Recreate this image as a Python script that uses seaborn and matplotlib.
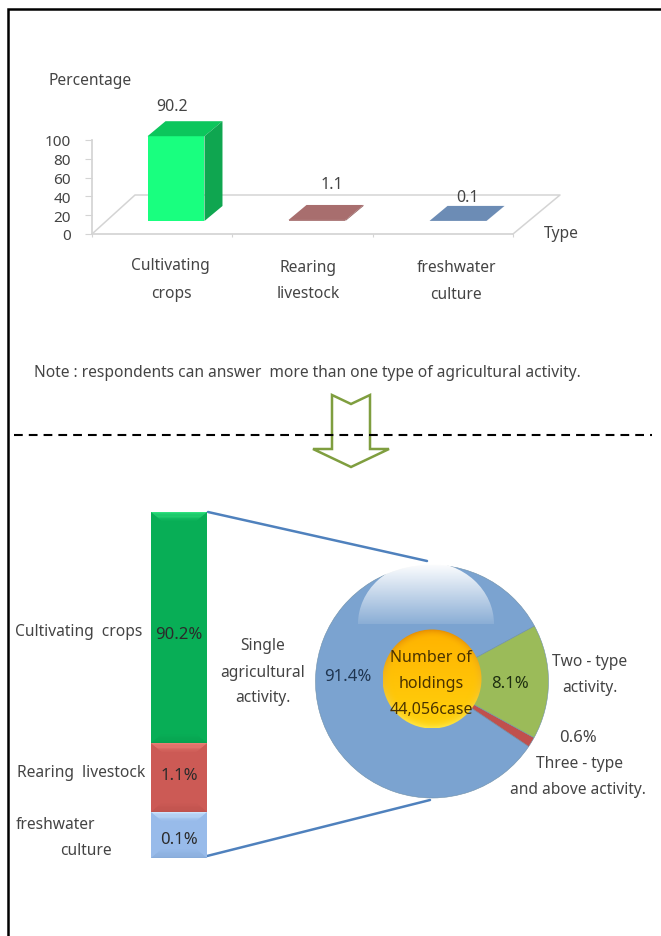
import numpy as np
import pandas as pd
import matplotlib
matplotlib.use("Agg")
import matplotlib.pyplot as plt
from matplotlib.patches import Polygon, Circle, Ellipse
import seaborn as sns

# ---------- data ----------
types = ["Cultivating crops", "Rearing livestock", "freshwater culture"]
type_pct = [90.2, 1.1, 0.1]
y_ticks = [0, 20, 40, 60, 80, 100]
front_colors = ["#19FF7F", "#B08080", "#7090B8"]
top_colors = ["#0CC65C", "#A86E6E", "#6C8CB5"]
side_colors = ["#0FA650", "#945E5E", "#5D7BA0"]

# the lower column is drawn with schematic, non proportional heights
stack_names = ["Cultivating crops", "Rearing livestock", "freshwater culture"]
stack_labels = ["90.2%", "1.1%", "0.1%"]
stack_drawn = [66.8, 19.9, 13.3]
stack_body = ["#08AE56", "#CC5A55", "#98BBEA"]
stack_light = ["#35E884", "#F58A80", "#D3EAFF"]
stack_dark = ["#079F4E", "#BC504B", "#86AAD8"]

# the pie is likewise drawn with schematic wedge sizes
pie_names = ["Single agricultural activity.", "Three - type and above activity.", "Two - type activity."]
pie_labels = ["91.4%", "0.6%", "8.1%"]
pie_drawn = [82.7, 1.4, 15.9]
pie_colors = ["#7BA3D0", "#C0504D", "#9BBB59"]
holdings_text = ["Number of", "holdings", "44,056case"]

W, H = 661, 937
sns.set_theme(style="white")
FONT = ["Noto Sans", "DejaVu Sans"]
plt.rcParams["font.family"] = FONT
TXT = "#444444"

fig = plt.figure(figsize=(W / 100, H / 100), dpi=100, facecolor="white")


def px_axes(l, t, r, b, z=1):
    a = fig.add_axes([l / W, 1 - b / H, (r - l) / W, (b - t) / H], zorder=z)
    a.patch.set_alpha(0)
    return a


# page overlay in pixel coordinates
page = px_axes(0, 0, W, H, z=0)
page.set_xlim(0, W)
page.set_ylim(H, 0)
page.axis("off")
top = px_axes(0, 0, W, H, z=9)
top.set_xlim(0, W)
top.set_ylim(H, 0)
top.axis("off")


def label(x, y, s, ha="center", fs=11.2, color=TXT, ax=top):
    ax.text(x, y + 2, s, ha=ha, va="center", fontsize=fs, color=color)


# frame, separator, arrow
page.plot([8, 8, W], [H, 9.5, 9.5], color="black", lw=1.8, solid_joinstyle="miter")
page.plot([14, 652], [435.5, 435.5], color="black", lw=1.5, dashes=(4.2, 2.9))
arrow = [(332, 396), (351, 405), (370, 396), (370, 450), (389, 450), (351, 468), (313, 450), (332, 450)]
page.add_patch(Polygon(arrow, closed=True, fill=False, edgecolor="#7F9E3F", lw=1.8))

# ---------- top chart ----------
floor_col = "#D4D4D4"
page.plot([513, 560, 135, 92], [235, 196, 196, 235], color=floor_col, lw=1.1)

axis_ax = px_axes(92, 141, 513, 235, z=2)
axis_ax.set_ylim(0, 100)
axis_ax.set_xlim(0, len(types))
axis_ax.set_xticks(range(len(types) + 1))
axis_ax.set_xticklabels([])
axis_ax.set_yticks(y_ticks)
axis_ax.set_yticklabels([str(v) for v in y_ticks], fontsize=11, color=TXT)
axis_ax.tick_params(axis="y", length=5, width=0.8, color=floor_col, pad=10, left=True)
axis_ax.tick_params(axis="x", length=2.5, width=0.8, color=floor_col, bottom=True)
for name, sp in axis_ax.spines.items():
    sp.set_visible(name in ("left", "bottom"))
    sp.set_color(floor_col)

bar_ax = px_axes(105.5, 128, 528.5, 222, z=3)
df_top = pd.DataFrame({"type": types, "pct": type_pct})
sns.barplot(data=df_top, x="type", y="pct", hue="type", palette=front_colors, legend=False,
            width=0.404, saturation=1, ax=bar_ax, linewidth=0)
bar_ax.set_ylim(0, 100)
bar_ax.set_xlim(-0.5, 2.5)
bar_ax.axis("off")
dx, dy = 18 / 141, 15 / 0.94
for i, v in enumerate(type_pct):
    x0, x1 = i - 0.202, i + 0.202
    bar_ax.add_patch(Polygon([(x0, v), (x1, v), (x1 + dx, v + dy), (x0 + dx, v + dy)],
                             closed=True, fc=top_colors[i], ec="none", clip_on=False))
    bar_ax.add_patch(Polygon([(x1, 0), (x1 + dx, dy), (x1 + dx, v + dy), (x1, v)],
                             closed=True, fc=side_colors[i], ec="none", clip_on=False))

label(172, 105, f"{type_pct[0]}", fs=11.5)
label(332, 183, f"{type_pct[1]}", fs=11.5)
label(468, 196, f"{type_pct[2]}", fs=11.5)
label(49, 79, "Percentage", ha="left")
label(544, 232, "Type", ha="left")
for x, y, s in [(170, 264, "Cultivating"), (171, 292, "crops"), (308, 266, "Rearing"),
                (308, 292, "livestock"), (456, 266, "freshwater"), (456, 293, "culture")]:
    label(x, y, s)
label(34, 371, "Note : respondents can answer  more than one type of agricultural activity.", ha="left")

# ---------- stacked column ----------
stack_ax = px_axes(151, 513, 207, 859, z=3)
bottoms = [sum(stack_drawn[i + 1:]) for i in range(len(stack_drawn))]
for name, h, b, col in zip(stack_names, stack_drawn, bottoms, stack_body):
    sns.barplot(x=[0], y=[h], bottom=b, color=col, saturation=1, width=1, ax=stack_ax, linewidth=0)
stack_ax.set_xlim(-0.5, 0.5)
stack_ax.set_ylim(0, 100)
stack_ax.axis("off")
bx, by = 12 / 56, 10 / 3.46


def mix(c1, c2, f):
    a, b = np.array(matplotlib.colors.to_rgb(c1)), np.array(matplotlib.colors.to_rgb(c2))
    return tuple(a * (1 - f) + b * f)


levels = 8
for b, h, lt, dk, body in zip(bottoms, stack_drawn, stack_light, stack_dark, stack_body):
    t = b + h
    for k in range(levels):
        f0, f1 = k / levels, (k + 1) / levels
        stack_ax.add_patch(Polygon([(-.5 + bx * f0, t - by * f0), (.5 - bx * f0, t - by * f0),
                                    (.5 - bx * f1, t - by * f1), (-.5 + bx * f1, t - by * f1)],
                                   fc=mix(lt, body, f1), ec="none"))
        stack_ax.add_patch(Polygon([(-.5 + bx * f0, b + by * f0), (.5 - bx * f0, b + by * f0),
                                    (.5 - bx * f1, b + by * f1), (-.5 + bx * f1, b + by * f1)],
                                   fc=mix(dk, body, f1), ec="none"))

label(15, 630, "Cultivating  crops", ha="left")
label(17, 771, "Rearing  livestock", ha="left")
label(16, 823, "freshwater", ha="left")
label(60, 849, "culture", ha="left")
for y, s in zip([633, 774, 838], stack_labels):
    label(179, y, s, color="#2B2B2B", fs=12)
for y, s in zip([644, 671, 696], ["Single", "agricultural", "activity."]):
    label(263, y, s)

# connectors
page.plot([208, 427], [513, 562], color="#4F81BD", lw=1.8)
page.plot([207, 430], [857, 801], color="#4F81BD", lw=1.8)

# ---------- pie ----------
cx, cy, R = 432, 682.5, 116.5
pie_ax = px_axes(cx - R - 2, cy - R - 2, cx + R + 2, cy + R + 2, z=4)
pie_ax.pie(pie_drawn, colors=pie_colors, startangle=28.4, radius=R / (R + 2),
           wedgeprops=dict(edgecolor="#6E8FA8", linewidth=0.4))
pie_ax.set_xlim(-1, 1)
pie_ax.set_ylim(-1, 1)

ov = px_axes(0, 0, W, H, z=5)
# glossy highlight
alpha = np.linspace(1.0, 0.12, 128)[:, None]
img = np.ones((128, 2, 4))
img[..., 3] = alpha
hl = ov.imshow(img, extent=(358, 494, 625, 564), aspect="auto", zorder=2)
hl.set_clip_path(Ellipse((426, 625), 136, 124, transform=ov.transData))
# gold centre
gx, gy, gr = 432, 680, 49.5
yy, xx = np.mgrid[-1:1:200j, -1:1:200j]
rr = np.hypot(xx, yy)
rim = np.clip((rr - 0.8) / 0.2, 0, 1)[..., None] ** 2
vert = ((yy + 1) / 2)[..., None]
body = np.array([1.0, 0.70, 0.0]) * (1 - vert) + np.array([1.0, 0.82, 0.05]) * vert
edge = np.array([0.90, 0.55, 0.0]) * (1 - vert) + np.array([1.0, 0.90, 0.25]) * vert
gold = body * (1 - rim) + edge * rim
g = ov.imshow(gold, extent=(gx - gr, gx + gr, gy + gr, gy - gr), aspect="auto", zorder=3)
g.set_clip_path(Circle((gx, gy), gr, transform=ov.transData))
ov.set_xlim(0, W)
ov.set_ylim(H, 0)
ov.axis("off")

label(348, 675, pie_labels[0], color="#1F3550", fs=12)
label(510, 682, pie_labels[2], color="#1E2E10", fs=12)
for y, s in zip([656, 682, 708], holdings_text):
    label(431, y, s, color="#4A3300", fs=11.5)
label(590, 660, "Two - type")
label(590, 686, "activity.")
label(578, 736, pie_labels[1], fs=12)
label(579, 762, "Three - type")
label(578, 788, "and above activity.")

fig.savefig("out.png", dpi=100)
